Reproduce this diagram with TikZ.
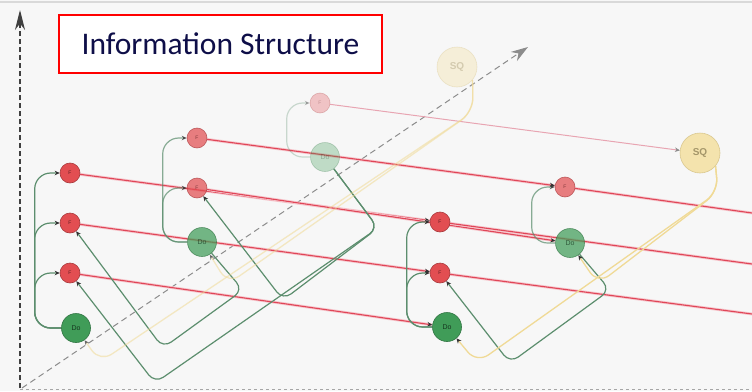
\documentclass[tikz,border=0pt]{standalone}
\usepackage{fontspec}
\setmainfont{Liberation Sans}
\newfontfamily\titlefont{Carlito}
\usetikzlibrary{arrows.meta,backgrounds}

\definecolor{fred}{RGB}{226,78,82}
\definecolor{redline}{RGB}{224,70,88}
\definecolor{dogreen}{RGB}{64,156,88}
\definecolor{greenline}{RGB}{92,142,110}
\definecolor{sqyellow}{RGB}{243,220,145}
\definecolor{yellowline}{RGB}{240,218,150}
\definecolor{pinkline}{RGB}{232,165,178}
\definecolor{navy}{RGB}{14,14,72}
\definecolor{paper}{RGB}{247,247,247}

\begin{document}
\begin{tikzpicture}[x=1pt,y=-1pt,>={Stealth[length=5pt,width=4.5pt,color=black!80]}]
        \tikzstyle{fnode}=[circle,draw=fred!75!black,fill=fred,line width=0.6pt,minimum size=20pt,inner sep=0pt,font=\fontsize{5}{5}\selectfont,text=fred!40!black]
        \tikzstyle{donode}=[circle,draw=dogreen!75!black,fill=dogreen,line width=0.6pt,minimum size=29pt,inner sep=0pt,font=\fontsize{7}{7}\selectfont,text=dogreen!35!black]
        \tikzstyle{sqnode}=[circle,draw=sqyellow!85!black,fill=sqyellow,line width=0.6pt,minimum size=40pt,inner sep=0pt,font=\fontsize{10}{10}\selectfont\bfseries,text=sqyellow!55!black]
        \tikzstyle{dim}=[opacity=0.72]
        \tikzstyle{dimmer}=[opacity=0.3]
        \tikzstyle{redge}=[draw=redline,line width=1.1pt,preaction={draw=redline!30,line width=2.8pt,-}]
        \tikzstyle{gedge}=[draw=greenline,line width=1.2pt]
        \tikzstyle{yedge}=[draw=yellowline,line width=1.3pt]
        \useasboundingbox (0,0) rectangle (752,391);

        \node[fnode] (f1a) at (70,173) {F};
        \node[fnode] (f1b) at (70,223) {F};
        \node[fnode] (f1c) at (70,273) {F};
        \node[donode] (do1) at (76,328) {Do};

        \node[fnode,dim] (f2a) at (197,138) {F};
        \node[fnode,dim] (f2b) at (197,188) {F};
        \node[donode,dim] (do2) at (202,242) {Do};

        \node[fnode,dimmer] (f3a) at (320,103) {F};
        \node[donode,dimmer] (do3) at (325,157) {Do};
        \node[sqnode,dimmer] (sq3) at (457,67) {SQ};

        \node[fnode] (f4a) at (440,222) {F};
        \node[fnode] (f4b) at (440,273) {F};
        \node[donode] (do4) at (447,327) {Do};

        \node[fnode,dim] (f5a) at (565,187) {F};
        \node[donode,dim] (do5) at (570,243) {Do};
        \node[sqnode,dim] (sq5) at (700,153) {SQ};

        \coordinate (outa) at (752,213);
        \coordinate (outb) at (752,264);
        \coordinate (outc) at (752,314);

        \begin{scope}[on background layer]
        \fill[paper] (0,0) rectangle (752,391);
        \draw[line width=2pt,black!15] (0,2) -- (752,2);
        \draw[dashed,black!35] (20,389) -- (752,389);
        \draw[black!75,line width=1.2pt,dash pattern=on 5pt off 3pt,-{Stealth[length=20pt,width=10pt]}] (20,388) -- (20,10);
        \draw[black!45,line width=1pt,dash pattern=on 6pt off 4pt,-{Stealth[length=17pt,width=11pt]}] (22,388) -- (528,47);

        \draw[redge,->] (f1a) -- (f4a);
        \draw[redge,->] (f1b) -- (f4b);
        \draw[redge,->] (f1c) -- (do4);
        \draw[redge,->] (f2a) -- (f5a);
        \draw[redge,->] (f2b) -- (do5);
        \draw[redge] (f5a) -- (outa);
        \draw[redge] (f4a) -- (outb);
        \draw[redge] (f4b) -- (outc);
        \draw[draw=pinkline,line width=1pt,-{Stealth[length=5pt,width=4.5pt,color=black!45]}] (f3a) -- (sq5);

        \foreach \f in {f1a,f1b,f1c}
            \draw[gedge,->,rounded corners=16pt] (do1.west) -| ([xshift=-25pt]\f.west) -- (\f.west);
        \foreach \f in {f2a,f2b}
            \draw[gedge,->,rounded corners=16pt,dim] (do2.west) -| ([xshift=-24pt]\f.west) -- (\f.west);
        \draw[gedge,->,rounded corners=16pt,dimmer] (do3.west) -| ([xshift=-23pt]f3a.west) -- (f3a.west);
        \foreach \f in {f4a,f4b}
            \draw[gedge,->,rounded corners=16pt] (do4.west) -| ([xshift=-23pt]\f.west) -- (\f.west);
        \draw[gedge,->,rounded corners=16pt,dim] (do5.west) -| ([xshift=-23pt]f5a.west) -- (f5a.west);

        \draw[gedge,->,rounded corners=10pt] (do2) -- (243,290) -- (163,348) -- (f1b);
        \draw[gedge,->,rounded corners=10pt] (do3) -- (378,228) -- (155,383) -- (f1c);
        \draw[gedge,->,rounded corners=10pt] (do3) -- (378,228) -- (283,300) -- (f2b);
        \draw[gedge,->,rounded corners=10pt] (do5) -- (610,290) -- (510,363) -- (f4b);

        \draw[yedge,->,rounded corners=14pt,opacity=0.55] (sq3.-40) -- (473,112) -- (100,362) -- (do1);
        \draw[yedge,->,rounded corners=14pt,opacity=0.55] (sq3.-40) -- (473,112) -- (228,284) -- (do2);
        \draw[yedge,->,rounded corners=14pt] (sq5.-40) -- (718,192) -- (477,363) -- (do4);
        \draw[yedge,->,rounded corners=14pt] (sq5.-40) -- (718,192) -- (598,284) -- (do5);
        \end{scope}

        \node[draw=red,line width=1.6pt,fill=white,minimum width=323pt,minimum height=58pt,inner sep=0pt,text=navy,font=\titlefont\fontsize{31.5}{36}\selectfont] (title) at (220.5,44) {Information Structure};
\end{tikzpicture}
\end{document}
